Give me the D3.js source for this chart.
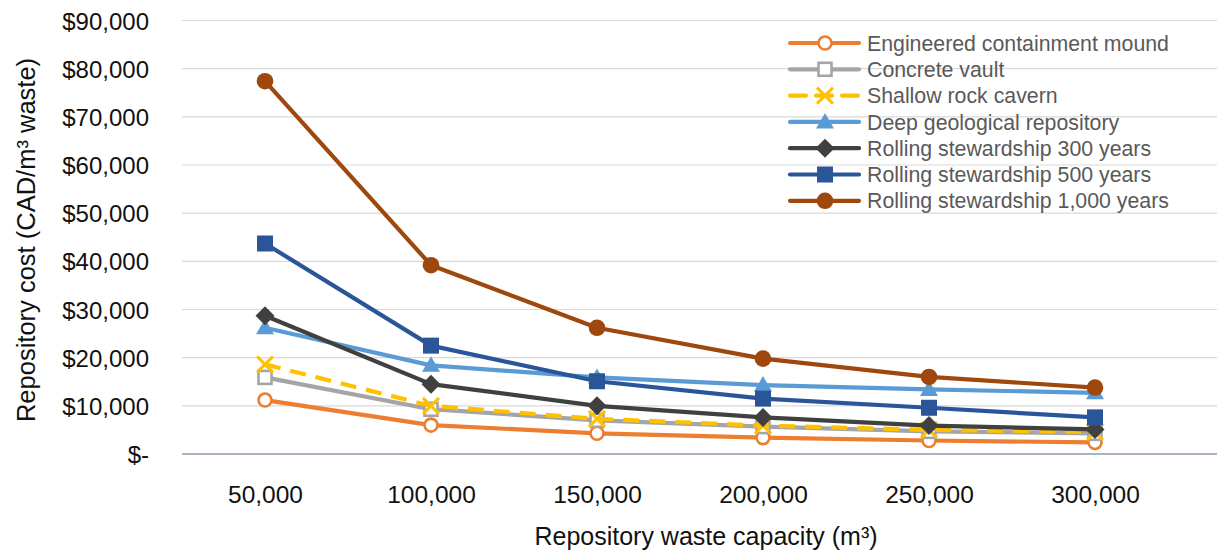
<!DOCTYPE html>
<html><head><meta charset="utf-8">
<script src="https://cdn.jsdelivr.net/npm/d3@7"></script>
<style>body{margin:0;background:#fff;} svg{display:block;font-family:"Liberation Sans",Arial,sans-serif;}</style>
</head><body>
<svg id="c" width="1217" height="550"></svg>
<script>
const categories = ["50,000","100,000","150,000","200,000","250,000","300,000"];
const yTicks = [0,10000,20000,30000,40000,50000,60000,70000,80000,90000];
const seriesNames = ["Engineered containment mound","Concrete vault","Shallow rock cavern","Deep geological repository","Rolling stewardship 300 years","Rolling stewardship 500 years","Rolling stewardship 1,000 years"];
const engineered = [11200, 6000, 4300, 3400, 2800, 2400];
const concrete   = [15900, 9300, 7000, 5700, 4700, 4300];
const shallow    = [18600, 10000, 7300, 5900, 5000, 4600];
const deepGeo    = [26200, 18400, 15900, 14300, 13400, 12700];
const roll300    = [28700, 14500, 10000, 7600, 5900, 5100];
const roll500    = [43700, 22500, 15100, 11500, 9600, 7600];
const roll1000   = [77400, 39200, 26200, 19800, 16000, 13800];
const seriesValues = [engineered, concrete, shallow, deepGeo, roll300, roll500, roll1000];
const colors = ["#ED7D31","#A5A5A5","#FFC000","#5B9BD5","#404040","#2A5699","#9E480E"];
const markers = ["circleOpen","squareOpen","x","triangle","diamond","square","circle"];

const svg = d3.select("#c");
const plotL = 182, plotR = 1217, bandR = 1178, plotTop = 20.5, plotBottom = 454;
const x = d3.scalePoint().domain(categories).range([plotL, bandR]).padding(0.5);
const y = d3.scaleLinear().domain([0, 90000]).range([plotBottom, plotTop]);

// gridlines
svg.append("g").selectAll("line").data(yTicks.filter(d=>d>0)).join("line")
  .attr("x1", plotL).attr("x2", plotR).attr("y1", d=>y(d)).attr("y2", d=>y(d))
  .attr("stroke", "#d9d9d9").attr("stroke-width", 1.2);
svg.append("line").attr("x1", plotL).attr("x2", plotR).attr("y1", y(0)).attr("y2", y(0))
  .attr("stroke", "#8c99a8").attr("stroke-width", 1.5);

// y axis labels
const fmt = d => d === 0 ? "$-" : "$" + d3.format(",")(d);
const yAxis = d3.axisLeft(y).tickValues(yTicks).tickFormat(fmt).tickSize(0).tickPadding(0);
const gy = svg.append("g").attr("transform", `translate(149,0)`).call(yAxis);
gy.select(".domain").remove();
gy.selectAll("text").attr("font-size", 24).attr("fill", "#111").attr("font-family", "Liberation Sans, Arial, sans-serif").attr("dy","0.36em");

// x axis labels
const xAxis = d3.axisBottom(x).tickSize(0).tickPadding(0);
const gx = svg.append("g").attr("transform", `translate(0,503)`).call(xAxis);
gx.select(".domain").remove();
gx.selectAll("text").attr("font-size", 24.5).attr("fill", "#111").attr("font-family", "Liberation Sans, Arial, sans-serif").attr("y", 0).attr("dy","0");

// axis titles
svg.append("text").attr("transform", "translate(35,240) rotate(-90)").attr("text-anchor","middle")
  .attr("font-size", 25.5).attr("fill","#111").text("Repository cost (CAD/m³ waste)");
svg.append("text").attr("x", 706).attr("y", 545).attr("text-anchor","middle")
  .attr("font-size", 25).attr("fill","#111").text("Repository waste capacity (m³)");

function drawMarker(g, type, color, cx, cy) {
  const s = 8;
  if (type === "circleOpen") g.append("circle").attr("cx",cx).attr("cy",cy).attr("r",6.5).attr("fill","#fff").attr("stroke",color).attr("stroke-width",2.6);
  else if (type === "squareOpen") g.append("rect").attr("x",cx-6.5).attr("y",cy-6.5).attr("width",13).attr("height",13).attr("fill","#fff").attr("stroke",color).attr("stroke-width",2.6);
  else if (type === "x") g.append("path").attr("d",`M${cx-s},${cy-s}L${cx+s},${cy+s}M${cx-s},${cy+s}L${cx+s},${cy-s}`).attr("stroke",color).attr("stroke-width",3).attr("fill","none");
  else if (type === "triangle") g.append("path").attr("d",`M${cx},${cy-9}L${cx+9},${cy+6.5}L${cx-9},${cy+6.5}Z`).attr("fill",color);
  else if (type === "diamond") g.append("path").attr("d",`M${cx},${cy-9.5}L${cx+9.5},${cy}L${cx},${cy+9.5}L${cx-9.5},${cy}Z`).attr("fill",color);
  else if (type === "square") g.append("rect").attr("x",cx-8).attr("y",cy-8).attr("width",16).attr("height",16).attr("fill",color);
  else if (type === "circle") g.append("circle").attr("cx",cx).attr("cy",cy).attr("r",8.3).attr("fill",color);
}

const line = d3.line().x((d,i)=>x(categories[i])).y(d=>y(d));
seriesValues.forEach((vals, si) => {
  const g = svg.append("g");
  g.append("path").attr("d", line(vals)).attr("fill","none").attr("stroke", colors[si])
    .attr("stroke-width", 4.2).attr("stroke-linejoin","round")
    .attr("stroke-dasharray", si === 2 ? "16,10" : null);
  vals.forEach((v,i) => drawMarker(g, markers[si], colors[si], x(categories[i]), y(v)));
});

// legend
const lg = svg.append("g");
seriesNames.forEach((name, i) => {
  const ly = 43 + i * 26.3;
  const g = lg.append("g");
  g.append("line").attr("x1", 790).attr("x2", 859).attr("y1", ly).attr("y2", ly)
    .attr("stroke", colors[i]).attr("stroke-width", 4.2).attr("stroke-dasharray", i === 2 ? "16,10" : null)
    .attr("stroke-linecap", "round");
  drawMarker(g, markers[i], colors[i], 825, ly);
  g.append("text").attr("x", 867).attr("y", ly).attr("dy","0.36em").attr("font-size", 21.3)
    .attr("fill", "#595959").text(name);
});
</script>
</body></html>
